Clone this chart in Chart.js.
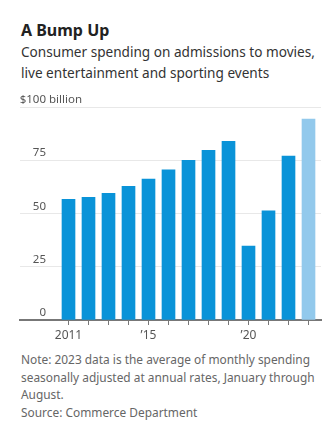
<!DOCTYPE html>
<html>
<head>
<meta charset="utf-8">
<script src="https://cdn.jsdelivr.net/npm/chart.js@4.4.0/dist/chart.umd.min.js"></script>
<style>
  html, body { margin: 0; padding: 0; background: #fff; }
  body { width: 335px; height: 428px; position: relative; overflow: hidden; font-family: "Noto Sans", sans-serif; }
  .title { position: absolute; left: 21px; top: 22px; font-size: 16px; line-height: 16px; font-weight: 700; color: #222; }
  .subtitle { position: absolute; left: 21px; top: 41px; font-size: 13.6px; line-height: 21px; color: #333; }
  .notes { position: absolute; left: 21px; top: 351px; font-size: 11.9px; line-height: 17.5px; color: #666; }
  #wrap { position: absolute; left: 0; top: 95px; width: 335px; height: 251px; }
</style>
</head>
<body>
<div class="title">A Bump Up</div>
<div class="subtitle">Consumer spending on admissions to movies,<br>live entertainment and sporting events</div>
<div id="wrap"><canvas id="chart" width="335" height="251"></canvas></div>
<div class="notes">Note: 2023 data is the average of monthly spending<br>seasonally adjusted at annual rates, January through<br>August.<br>Source: Commerce Department</div>
<script>
const years = [2011, 2012, 2013, 2014, 2015, 2016, 2017, 2018, 2019, 2020, 2021, 2022, 2023];
const spending = [56.7, 57.6, 59.5, 62.8, 66.2, 70.5, 75.0, 79.7, 83.9, 34.7, 51.3, 76.9, 94.3];
const yTicks = [0, 25, 50, 75, 100];
const xTickLabels = { 2011: '2011', 2015: '\u201915', 2020: '\u201920' };
const partialYear = 2023;

const BLUE = '#0a93d8';
const LIGHT_BLUE = '#92c9ec';

Chart.defaults.font.family = "'Noto Sans', sans-serif";

// value labels sit above each gridline, right-aligned, with the unit on the top one
const yLabels = {
  id: 'yLabels',
  afterDraw(chart) {
    const ctx = chart.ctx;
    const y = chart.scales.y;
    ctx.save();
    ctx.font = "11.5px 'Noto Sans', sans-serif";
    ctx.fillStyle = '#555';
    ctx.textBaseline = 'alphabetic';
    yTicks.forEach(v => {
      const py = y.getPixelForValue(v) - 4;
      ctx.textAlign = 'right';
      ctx.fillText(v === 100 ? '$100' : String(v), 46, py);
      if (v === 100) {
        ctx.textAlign = 'left';
        ctx.fillText(' billion', 46, py);
      }
    });
    ctx.restore();
  }
};

new Chart(document.getElementById('chart'), {
  type: 'bar',
  data: {
    datasets: [{
      data: years.map((yr, i) => ({ x: yr, y: spending[i] })),
      backgroundColor: years.map(yr => yr === partialYear ? LIGHT_BLUE : BLUE),
      barThickness: 13
    }]
  },
  options: {
    responsive: false,
    animation: false,
    devicePixelRatio: 1,
    layout: { padding: { left: 20, right: 14, top: 12, bottom: 0 } },
    plugins: { legend: { display: false }, tooltip: { enabled: false } },
    scales: {
      x: {
        type: 'linear',
        offset: false,
        min: 2008.575,
        max: 2023.625,
        z: 1,
        afterBuildTicks: s => { s.ticks = years.map(v => ({ value: v })); },
        afterFit: s => { s.height = 26; },
        ticks: {
          autoSkip: false,
          maxRotation: 0,
          padding: 3,
          color: '#555',
          font: { size: 12 },
          callback: v => xTickLabels[v] || ''
        },
        grid: { drawOnChartArea: false, drawTicks: true, tickLength: 5, color: '#777', offset: false },
        border: { color: '#777', width: 2 }
      },
      y: {
        min: 0,
        max: 100,
        afterBuildTicks: s => { s.ticks = yTicks.map(v => ({ value: v })); },
        afterFit: s => { s.width = 0; },
        ticks: { display: false },
        grid: {
          drawTicks: false,
          color: c => c.tick && c.tick.value === 0 ? 'rgba(0,0,0,0)' : '#e8e8e8'
        },
        border: { display: false }
      }
    }
  },
  plugins: [yLabels]
});
</script>
</body>
</html>
